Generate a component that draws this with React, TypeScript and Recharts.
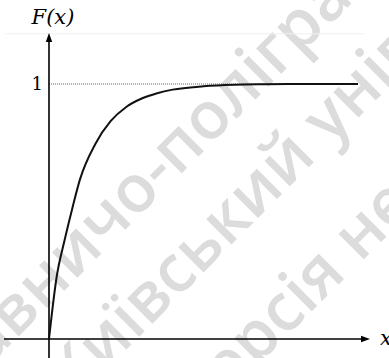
import React from 'react';
import { LineChart, Line, XAxis, YAxis, ReferenceLine, Label } from 'recharts';

const xValues = [0, 0.25, 0.5, 0.75, 1, 1.5, 2, 2.5, 3, 3.5, 4, 5, 6, 7, 8, 10];
const fValues = [0, 0.245, 0.385, 0.51, 0.625, 0.765, 0.855, 0.91, 0.943, 0.964, 0.978, 0.991, 0.997, 0.999, 1, 1];
const levelValue = 1;
const yLabel = 'F(x)';
const xLabel = 'x';
const levelLabel = '1';

const xDomain: [number, number] = [-1.456, 10.388];
const yDomain: [number, number] = [-0.0745, 1.2];

const data = xValues.map((x, i) => ({ x, f: fValues[i] }));

const W = 389;
const H = 358;

const wmFont = {
  fontFamily: '"Open Sans", sans-serif',
  fontWeight: 600,
  fontSize: 66,
  fill: '#dcdcdc',
};

function Watermark() {
  const lines = [
    { x: 163, y: 192, pre: 'Видавничо', post: '-поліграфічний центр' },
    { x: 286, y: 190, pre: 'Київськи', post: 'й університет' },
    { x: 321, y: 302, pre: 'Електронна версі', post: 'я не для друку' },
  ];
  return (
    <svg width={W} height={H} style={{ position: 'absolute', left: 0, top: 0 }}>
      {lines.map((l, i) => (
        <g key={i} transform={`rotate(-45 ${l.x} ${l.y})`}>
          <text x={l.x} y={l.y} textAnchor="end" {...wmFont}>{l.pre}</text>
          <text x={l.x} y={l.y} textAnchor="start" {...wmFont}>{l.post}</text>
        </g>
      ))}
    </svg>
  );
}

const serif = '"DejaVu Serif", serif';

const VAxisShape = (props: any) => {
  const { x1, y1, x2, y2 } = props;
  return (
    <g>
      <line x1={x1} y1={y1} x2={x2} y2={y2 + 6} stroke="#000" strokeWidth={1.6} />
      <polygon points={`${x2},${y2} ${x2 - 3.2},${y2 + 9} ${x2 + 3.2},${y2 + 9}`} fill="#000" />
      <text x={x2 + 4} y={y2 - 9} textAnchor="middle" fontFamily={serif} fontStyle="italic" fontSize={21} fill="#000">
        {yLabel}
      </text>
    </g>
  );
};

const HAxisShape = (props: any) => {
  const { x1, y1, x2, y2 } = props;
  return (
    <g>
      <line x1={x1} y1={y1} x2={x2 - 6} y2={y2} stroke="#000" strokeWidth={1.6} />
      <polygon points={`${x2},${y2} ${x2 - 9},${y2 - 3.2} ${x2 - 9},${y2 + 3.2}`} fill="#000" />
      <text x={x2 + 10} y={y2 + 6} textAnchor="start" fontFamily={serif} fontStyle="italic" fontSize={21} fill="#000">
        {xLabel}
      </text>
    </g>
  );
};

export default function App() {
  return (
    <div style={{ position: 'fixed', left: 0, top: 0, width: W, height: H, background: '#fff', overflow: 'hidden' }}>
      <Watermark />
      <div style={{ position: 'absolute', left: 0, top: 0 }}>
        <LineChart width={W} height={H} data={data} margin={{ top: 33, right: 19, bottom: 0, left: 4 }}>
          <XAxis dataKey="x" type="number" domain={xDomain} allowDataOverflow hide />
          <YAxis type="number" domain={yDomain} allowDataOverflow hide />
          <ReferenceLine
            segment={[{ x: xDomain[0] + 0.03, y: yDomain[1] - 0.003 }, { x: xDomain[1] - 0.2, y: yDomain[1] - 0.003 }]}
            stroke="#f0f0f0"
            strokeWidth={1}
            ifOverflow="visible"
          />
          <ReferenceLine
            segment={[{ x: 0, y: levelValue }, { x: 10, y: levelValue }]}
            stroke="#666"
            strokeWidth={1}
            strokeDasharray="1 1"
            ifOverflow="visible"
          >
            <Label value={levelLabel} position="left" offset={6} fontFamily={serif} fontSize={18} fill="#000" />
          </ReferenceLine>
          <ReferenceLine
            segment={[{ x: 0, y: yDomain[0] }, { x: 0, y: yDomain[1] }]}
            ifOverflow="visible"
            shape={VAxisShape}
          />
          <ReferenceLine
            segment={[{ x: xDomain[0], y: 0 }, { x: xDomain[1], y: 0 }]}
            ifOverflow="visible"
            shape={HAxisShape}
          />
          <Line
            type="monotone"
            dataKey="f"
            stroke="#111"
            strokeWidth={2}
            dot={false}
            isAnimationActive={false}
          />
        </LineChart>
      </div>
    </div>
  );
}
